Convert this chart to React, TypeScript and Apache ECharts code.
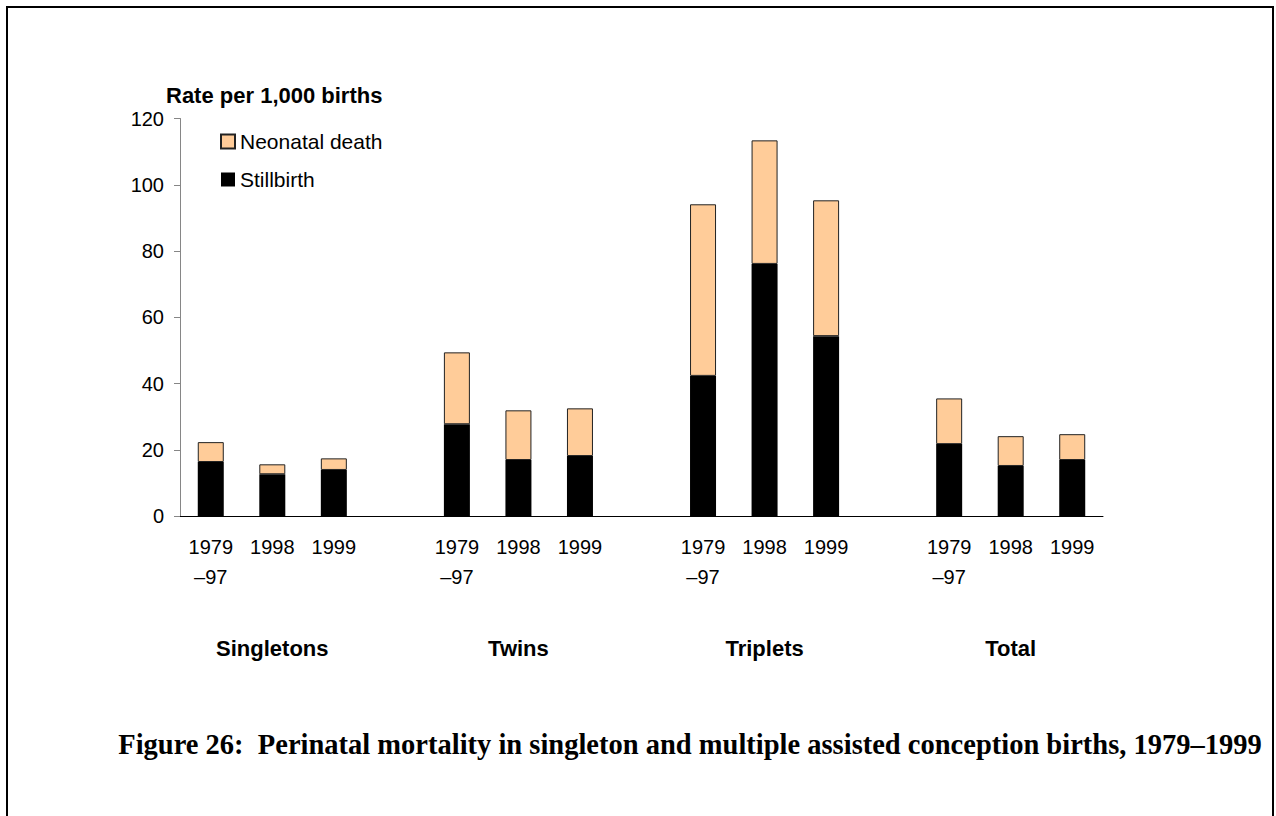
import React, { useEffect, useRef } from "react";
import * as echarts from "echarts";

const periods = ["1979\n–97", "1998", "1999"];
const groups = ["Singletons", "Twins", "Triplets", "Total"];
const stillbirth = [
  [16.3, 12.6, 13.9],
  [27.7, 16.9, 18.1],
  [42.3, 76.1, 54.3],
  [21.7, 15.1, 16.9],
];
const neonatal = [
  [6.0, 3.0, 3.5],
  [21.7, 15.0, 14.4],
  [51.8, 37.3, 41.0],
  [13.8, 9.0, 7.8],
];
const yTicks = { min: 0, max: 120, interval: 20 };
const yTitle = "Rate per 1,000 births";
const caption =
  "Figure 26:  Perinatal mortality in singleton and multiple assisted conception births, 1979–1999";

const SANS = "'Liberation Sans', Arial, sans-serif";
const SERIF = "'Liberation Serif', 'Times New Roman', serif";

export default function App() {
  const ref = useRef<HTMLDivElement>(null);
  useEffect(() => {
    if (!ref.current) return;
    const chart = echarts.init(ref.current, null, { renderer: "svg" });

    const categories: string[] = [];
    const groupAxis: string[] = [];
    const stillData: (number | null)[] = [];
    const neoData: (number | null)[] = [];
    groups.forEach((g, gi) => {
      if (gi > 0) {
        categories.push("");
        groupAxis.push("");
        stillData.push(null);
        neoData.push(null);
      }
      periods.forEach((p, pi) => {
        categories.push(p);
        groupAxis.push(pi === 1 ? g : "");
        stillData.push(stillbirth[gi][pi]);
        neoData.push(neonatal[gi][pi]);
      });
    });

    chart.setOption({
      animation: false,
      backgroundColor: "#fff",
      grid: { left: 180, right: 173, top: 118.5, bottom: 300, containLabel: false },
      legend: {
        data: [
          { name: "Neonatal death", icon: "rect" },
          { name: "Stillbirth", icon: "rect" },
        ],
        orient: "vertical",
        left: 220,
        top: 131,
        padding: 0,
        itemWidth: 14,
        itemHeight: 14,
        itemGap: 17,
        textStyle: { fontFamily: SANS, fontSize: 21, color: "#000" },
        selectedMode: false,
      },
      xAxis: [
        {
          type: "category",
          data: categories,
          position: "bottom",
          axisLine: { lineStyle: { color: "#000", width: 1 } },
          axisTick: { show: false },
          axisLabel: {
            interval: 0,
            margin: 16,
            fontFamily: SANS,
            fontSize: 20,
            lineHeight: 30,
            color: "#000",
          },
        },
        {
          type: "category",
          data: groupAxis,
          position: "bottom",
          offset: 0,
          axisLine: { show: false },
          axisTick: { show: false },
          axisLabel: {
            interval: 0,
            margin: 117,
            fontFamily: SANS,
            fontSize: 22,
            fontWeight: "bold",
            lineHeight: 30,
            color: "#000",
          },
        },
      ],
      yAxis: {
        type: "value",
        min: yTicks.min,
        max: yTicks.max,
        interval: yTicks.interval,
        axisLine: { show: true, lineStyle: { color: "#868686", width: 1 } },
        axisTick: { show: true, length: 6, lineStyle: { color: "#868686" } },
        splitLine: { show: false },
        axisLabel: { margin: 16, fontFamily: SANS, fontSize: 20, color: "#000" },
      },
      series: [
        {
          name: "Stillbirth",
          type: "bar",
          stack: "total",
          barWidth: 26,
          data: stillData,
          itemStyle: { color: "#000" },
        },
        {
          name: "Neonatal death",
          type: "bar",
          stack: "total",
          barWidth: 26,
          data: neoData,
          itemStyle: { color: "#FFCC99", borderColor: "#222", borderWidth: 1 },
        },
      ],
      graphic: [
        {
          type: "rect",
          shape: { x: 7, y: 7, width: 1266, height: 900 },
          style: { fill: "none", stroke: "#000", lineWidth: 2 },
          silent: true,
        },
        {
          type: "text",
          x: 166,
          y: 95,
          style: {
            text: yTitle,
            fontFamily: SANS,
            fontSize: 22,
            fontWeight: "bold",
            fill: "#000",
            textAlign: "left",
            textVerticalAlign: "middle",
          },
        },
        {
          type: "text",
          x: 690,
          y: 744,
          style: {
            text: caption,
            fontFamily: SERIF,
            fontSize: 28.5,
            fontWeight: "bold",
            fill: "#000",
            textAlign: "center",
            textVerticalAlign: "middle",
          },
        },
      ],
    });
    return () => chart.dispose();
  }, []);
  return (
    <div
      ref={ref}
      style={{ position: "fixed", left: 0, top: 0, width: 1276, height: 816 }}
    />
  );
}
